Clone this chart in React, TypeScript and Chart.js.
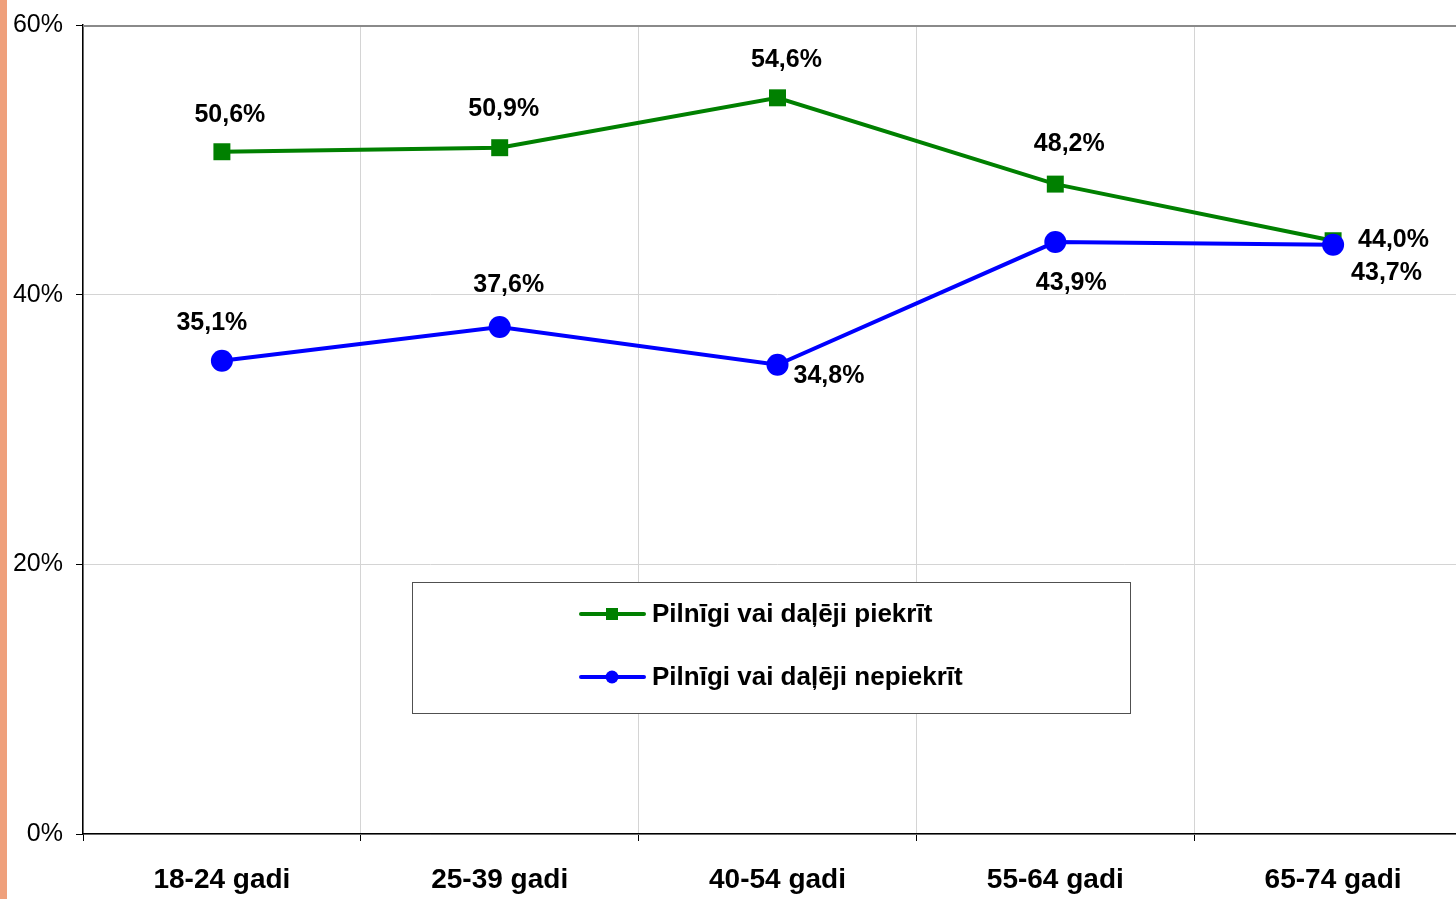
import React, { useEffect, useRef } from 'react';
import { Chart, registerables } from 'chart.js';

Chart.register(...registerables);

const categories = ['18-24 gadi', '25-39 gadi', '40-54 gadi', '55-64 gadi', '65-74 gadi'];
const agreeLabel = 'Pilnīgi vai daļēji piekrīt';
const disagreeLabel = 'Pilnīgi vai daļēji nepiekrīt';
const agreeValues = [50.6, 50.9, 54.6, 48.2, 44.0];
const disagreeValues = [35.1, 37.6, 34.8, 43.9, 43.7];
const yMin = 0;
const yMax = 60;
const yStep = 20;

// annotation placement relative to each point (dx, dy, text align)
const agreeLabelPlacement: [number, number, CanvasTextAlign][] = [
  [8, -37, 'center'],
  [4, -39, 'center'],
  [9, -38, 'center'],
  [14, -40, 'center'],
  [25, -1, 'left'],
];
const disagreeLabelPlacement: [number, number, CanvasTextAlign][] = [
  [-10, -38, 'center'],
  [9, -42, 'center'],
  [16, 11, 'left'],
  [16, 41, 'center'],
  [18, 28, 'left'],
];

const FONT = '"Liberation Sans", Arial, Helvetica, sans-serif';
const GREEN = '#008000';
const BLUE = '#0000FF';

const fmt = (v: number) => v.toFixed(1).replace('.', ',') + '%';

const annotationPlugin = {
  id: 'annotations',
  beforeDatasetsDraw(chart: any) {
    const { ctx, chartArea } = chart;
    ctx.save();
    // top border of plot
    ctx.strokeStyle = '#8a8a8a';
    ctx.lineWidth = 2;
    ctx.beginPath();
    ctx.moveTo(chartArea.left, chartArea.top + 1);
    ctx.lineTo(chartArea.right, chartArea.top + 1);
    ctx.stroke();

    // legend box
    const bx = chartArea.left + 329;
    const by = chartArea.top + 557;
    const bw = 718;
    const bh = 131;
    ctx.fillStyle = '#ffffff';
    ctx.fillRect(bx, by, bw, bh);
    ctx.strokeStyle = '#505050';
    ctx.lineWidth = 1;
    ctx.strokeRect(bx + 0.5, by + 0.5, bw, bh);

    const rows = [by + 32, by + 95];
    chart.data.datasets.forEach((ds: any, i: number) => {
      const y = rows[i];
      ctx.strokeStyle = ds.borderColor;
      ctx.lineWidth = 4;
      ctx.lineCap = 'round';
      ctx.beginPath();
      ctx.moveTo(bx + 169, y);
      ctx.lineTo(bx + 232, y);
      ctx.stroke();
      ctx.fillStyle = ds.borderColor;
      if (ds.pointStyle === 'rect') {
        ctx.fillRect(bx + 200 - 6, y - 6, 12, 12);
      } else {
        ctx.beginPath();
        ctx.arc(bx + 200, y, 6.5, 0, Math.PI * 2);
        ctx.fill();
      }
      ctx.fillStyle = '#000';
      ctx.font = `bold 26px ${FONT}`;
      ctx.textAlign = 'left';
      ctx.textBaseline = 'middle';
      ctx.fillText(ds.label, bx + 240, y + 1);
    });
    ctx.restore();
  },
  afterDatasetsDraw(chart: any) {
    const { ctx } = chart;
    ctx.save();
    ctx.font = `bold 25px ${FONT}`;
    ctx.fillStyle = '#000';
    ctx.textBaseline = 'middle';
    const placements = [agreeLabelPlacement, disagreeLabelPlacement];
    chart.data.datasets.forEach((ds: any, di: number) => {
      const meta = chart.getDatasetMeta(di);
      meta.data.forEach((pt: any, i: number) => {
        const [dx, dy, align] = placements[di][i];
        ctx.textAlign = align;
        ctx.fillText(fmt(ds.data[i]), pt.x + dx, pt.y + dy);
      });
    });
    ctx.restore();
  },
};

export default function App() {
  const canvasRef = useRef<HTMLCanvasElement | null>(null);

  useEffect(() => {
    document.body.style.margin = '0';
    const canvas = canvasRef.current;
    if (!canvas) return;
    const chart = new Chart(canvas, {
      type: 'line',
      data: {
        labels: categories,
        datasets: [
          {
            label: agreeLabel,
            data: agreeValues,
            borderColor: GREEN,
            backgroundColor: GREEN,
            borderWidth: 4,
            pointStyle: 'rect',
            pointRadius: 12,
            pointBorderWidth: 0,
            pointBackgroundColor: GREEN,
            tension: 0,
            order: 1,
          },
          {
            label: disagreeLabel,
            data: disagreeValues,
            borderColor: BLUE,
            backgroundColor: BLUE,
            borderWidth: 4,
            pointStyle: 'circle',
            pointRadius: 11,
            pointBorderWidth: 0,
            pointBackgroundColor: BLUE,
            tension: 0,
            order: 0,
          },
        ],
      },
      options: {
        responsive: false,
        animation: false,
        layout: { autoPadding: false, padding: { top: 25, left: 0, right: 0, bottom: 0 } },
        plugins: {
          legend: { display: false },
          tooltip: { enabled: false },
        },
        scales: {
          x: {
            type: 'category',
            offset: true,
            grid: {
              offset: true,
              color: '#d4d4d4',
              lineWidth: 1,
              tickColor: '#000',
              tickLength: 7,
              drawOnChartArea: true,
            },
            border: { color: '#000', width: 1.5 },
            ticks: {
              color: '#000',
              font: { family: FONT, size: 28, weight: 'bold' },
              padding: 22,
              maxRotation: 0,
            },
            afterFit(scale: any) {
              scale.height = 65;
              scale.paddingLeft = 0;
              scale.paddingRight = 0;
            },
          },
          y: {
            min: yMin,
            max: yMax,
            ticks: {
              stepSize: yStep,
              color: '#000',
              font: { family: FONT, size: 25 },
              padding: 13,
              callback: (v: any) => `${v}%`,
            },
            grid: {
              color: '#d4d4d4',
              lineWidth: 1,
              tickColor: '#000',
              tickLength: 7,
            },
            border: { color: '#000', width: 1.5 },
            afterFit(scale: any) {
              scale.width = 83;
              scale.paddingTop = 0;
              scale.paddingBottom = 0;
            },
          },
        },
      },
      plugins: [annotationPlugin],
    } as any);
    return () => chart.destroy();
  }, []);

  return (
    <div style={{ position: 'relative', width: 1456, height: 899, overflow: 'hidden', background: '#fff' }}>
      <canvas
        ref={canvasRef}
        width={1472}
        height={899}
        style={{ position: 'absolute', left: 0, top: 0, width: 1472, height: 899 }}
      />
      <div style={{ position: 'absolute', left: 0, top: 0, width: 7, height: 899, background: '#EFA07C' }} />
    </div>
  );
}
